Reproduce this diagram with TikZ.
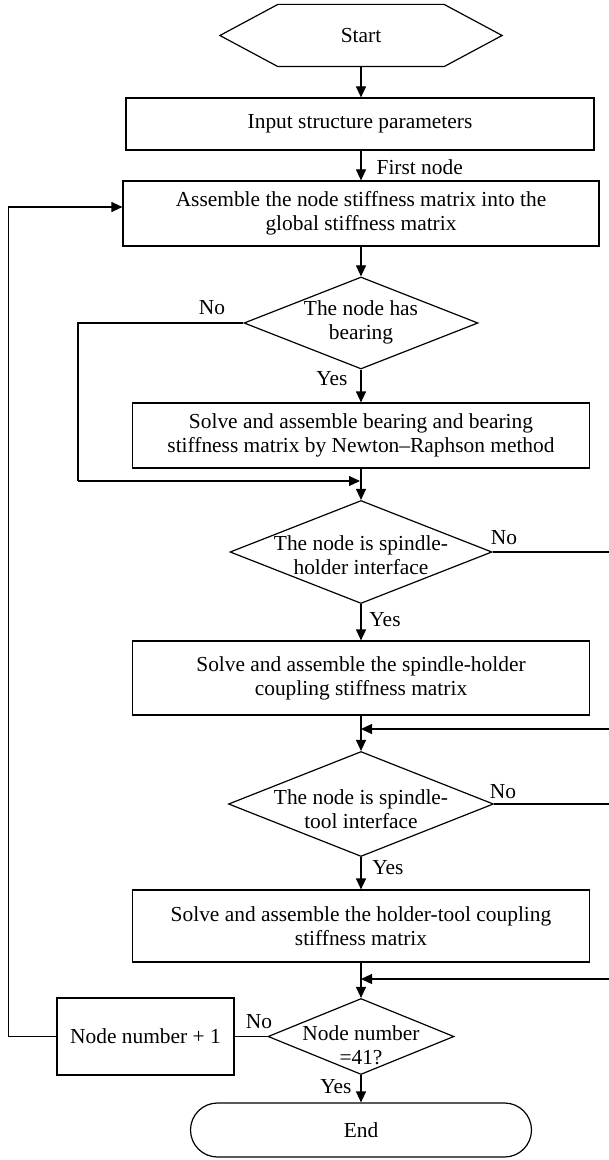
\documentclass[tikz,border=0pt]{standalone}
\usepackage{fontspec}
\setmainfont{Liberation Serif}
\usetikzlibrary{shapes.geometric,arrows.meta,calc}
\begin{document}
\begin{tikzpicture}[x=0.5pt,y=-0.5pt, line width=0.6pt,
  every node/.style={font=\fontsize{10.7}{12}\selectfont},
  box/.style={draw, rectangle, align=center, inner sep=0pt},
  dec/.style={draw, diamond, inner sep=0pt},
  txt/.style={align=center, inner sep=0pt},
  lbl/.style={inner sep=0pt},
  arr/.style={-{Triangle[length=5.5pt,width=5pt]}},
]
\useasboundingbox (0,0) rectangle (609,1160);

% Start hexagon
\node[inner sep=0pt, minimum width=82.5pt, minimum height=30.5pt] (start) at (361,35.5) {Start};
\draw (start.north west) -- (start.north east) -- ($(start.east)+(58,0)$) -- (start.south east)
  -- (start.south west) -- ($(start.west)+(-58,0)$) -- cycle;

\node[box, minimum width=234pt, minimum height=26pt] (inp) at (360,124) {Input structure parameters};
\node[box, minimum width=238pt, minimum height=32.5pt] (asm) at (361,213.5)
  {Assemble the node stiffness matrix into the\\global stiffness matrix};

\node[dec, minimum width=117pt, minimum height=46pt] (d1) at (361,323) {};
\node[txt] (d1t) at (361,322) {The node has\\bearing};

\node[box, minimum width=228.5pt, minimum height=32.5pt] (brg) at (361,435.5)
  {Solve and assemble bearing and bearing\\stiffness matrix by Newton--Raphson method};

\node[dec, minimum width=131pt, minimum height=51.5pt] (d2) at (361,552) {};
\node[txt] (d2t) at (361,555) {The node is spindle-\\holder interface};

\node[box, minimum width=228.5pt, minimum height=37pt] (b3) at (361,678)
  {Solve and assemble the spindle-holder\\coupling stiffness matrix};

\node[dec, minimum width=132.5pt, minimum height=52.5pt] (d3) at (361,804) {};
\node[txt] (d3t) at (361,809) {The node is spindle-\\tool interface};

\node[box, minimum width=228.5pt, minimum height=36pt] (b4) at (361,926)
  {Solve and assemble the holder-tool coupling\\stiffness matrix};

\node[dec, minimum width=93pt, minimum height=38pt] (d4) at (361,1036.5) {};
\node[txt] (d4t) at (361,1045) {Node number\\=41?};

\node[box, minimum width=88.5pt, minimum height=38.5pt] (nn) at (145.5,1036.5) {Node number + 1};

\node[draw, rounded corners=13.5pt, minimum width=170.5pt, minimum height=27pt, inner sep=0pt] (end) at (361,1130) {End};

% labels
\node[lbl, anchor=west] (fn) at (376,167) {First node};
\node[lbl] (no1) at (212,308) {No};
\node[lbl] (yes1) at (332,379) {Yes};
\node[lbl] (no2) at (504,538) {No};
\node[lbl] (yes2) at (385,620) {Yes};
\node[lbl] (no3) at (503,792) {No};
\node[lbl] (yes3) at (388,868) {Yes};
\node[lbl] (no4) at (259,1022) {No};
\node[lbl] (yes4) at (336,1087) {Yes};

% coordinates
\coordinate (n1) at (78,323);
\coordinate (n1b) at (78,481);
\coordinate (m1) at (360,481);
\coordinate (r1) at (609,552);
\coordinate (r1b) at (609,729);
\coordinate (m2) at (361,729);
\coordinate (r2) at (609,804);
\coordinate (r2b) at (609,979);
\coordinate (m3) at (361,979);
\coordinate (lpb) at (8.5,1036.5);
\coordinate (lpt) at (8.5,207);

% connectors
\draw[arr] (start.south) -- (inp.north -| start.south);
\draw[arr] (inp.south -| asm.north) -- (asm.north);
\draw[arr] (asm.south) -- (d1.north);
\draw[arr] (d1.south) -- (brg.north);
\draw (d1.west) -- (n1) -- (n1b);
\draw[arr] (n1b) -- (m1);
\draw[arr] (brg.south) -- (d2.north);
\draw (d2.east) -- (r1);
\draw[arr] (d2.south) -- (b3.north);
\draw[arr] (r1b) -- (m2);
\draw[arr] (b3.south) -- (d3.north);
\draw (d3.east) -- (r2);
\draw[arr] (d3.south) -- (b4.north);
\draw[arr] (r2b) -- (m3);
\draw[arr] (b4.south) -- (d4.north);
\draw (d4.west) -- (nn.east);
\draw[arr] (d4.south) -- (end.north);
\draw[arr] (nn.west) -- (lpb) -- (lpt) -- (lpt -| asm.west);
\end{tikzpicture}
\end{document}
